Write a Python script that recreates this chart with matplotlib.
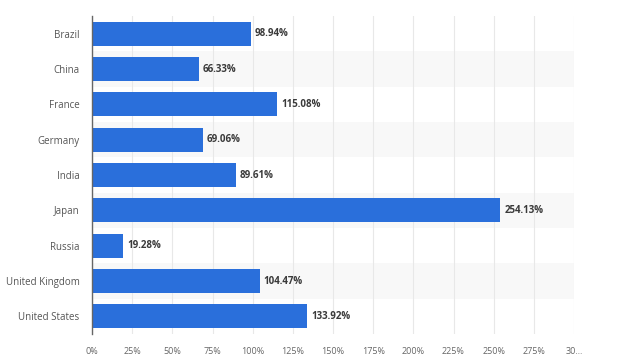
import matplotlib.pyplot as plt
import numpy as np

plt.rcParams['font.family'] = ['Open Sans', 'DejaVu Sans']

countries = ["Brazil", "China", "France", "Germany", "India", "Japan",
             "Russia", "United Kingdom", "United States"]
values = [98.94, 66.33, 115.08, 69.06, 89.61, 254.13, 19.28, 104.47, 133.92]
tick_vals = [0, 25, 50, 75, 100, 125, 150, 175, 200, 225, 250, 275, 300]
tick_labels = ["0%", "25%", "50%", "75%", "100%", "125%", "150%", "175%",
               "200%", "225%", "250%", "275%", "30\u2026"]

fig = plt.figure(figsize=(6.4, 3.57), dpi=100)
ax = fig.add_axes([92 / 640, 1 - 334 / 357, (574 - 92) / 640, (334 - 16) / 357])

y = np.arange(len(countries))

# alternating row shading
for i in y:
    if i % 2 == 1:
        ax.axhspan(i - 0.5, i + 0.5, color="#f8f8f8", zorder=0, lw=0)

ax.barh(y, values, height=0.68, color="#2a6fdb", zorder=3)

for yi, v in zip(y, values):
    ax.text(v + 2.5, yi, f"{v:.2f}%", va="center", ha="left",
            fontsize=7, fontweight="bold", color="#3a3a3a", zorder=4)

ax.set_xlim(0, 300)
ax.set_ylim(len(countries) - 0.5, -0.5)
ax.set_yticks(y)
ax.set_yticklabels(countries, fontsize=7, color="#555555")
ax.set_xticks(tick_vals)
ax.set_xticklabels(tick_labels, fontsize=6.5, color="#666666")
ax.tick_params(axis="both", length=0)
ax.tick_params(axis="y", pad=9)
ax.tick_params(axis="x", pad=9)

ax.grid(axis="x", color="#e8e8e8", lw=0.8, zorder=1)
for s in ["top", "right", "bottom"]:
    ax.spines[s].set_visible(False)
ax.spines["left"].set_color("#666666")
ax.spines["left"].set_linewidth(1)
ax.spines["left"].set_zorder(5)

fig.savefig("out.png", dpi=100)
